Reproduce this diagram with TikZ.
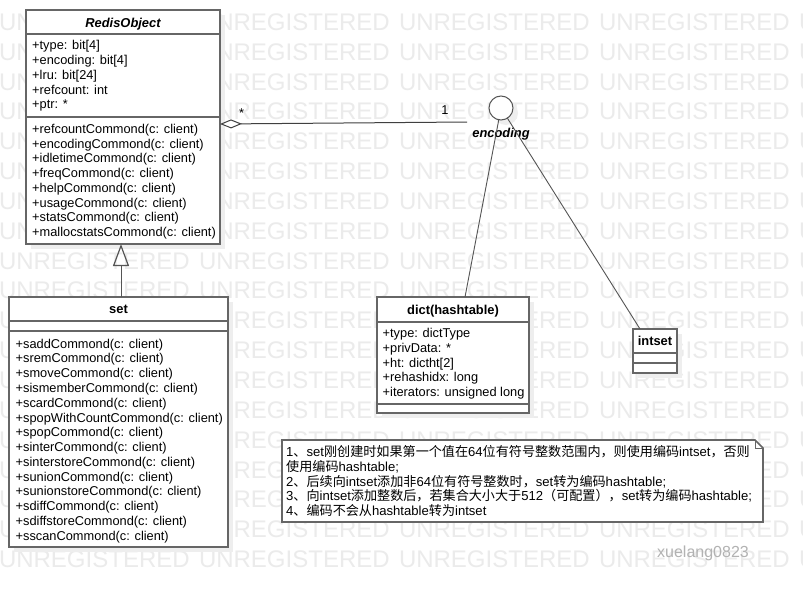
\documentclass[tikz,border=0pt]{standalone}
\usepackage{fontspec}
\setmainfont{Liberation Sans}
\newfontfamily\cjk{Noto Sans CJK SC}
\usetikzlibrary{arrows.meta,calc,shadows}
\definecolor{bord}{HTML}{666666}
\definecolor{conn}{HTML}{555555}
\definecolor{wmcol}{HTML}{EBEBEB}
\definecolor{shad}{HTML}{EEEEEE}
\newcommand\zh[1]{{\cjk #1}}
\begin{document}
\begin{tikzpicture}[x=1pt,y=-1pt,
  txt/.style={inner sep=0pt, anchor=base west, font=\fontsize{12.8}{15}\selectfont},
  notetxt/.style={inner sep=0pt, anchor=base west, font=\fontsize{13.1}{15}\selectfont},
  ttl/.style={inner sep=0pt, anchor=base, font=\fontsize{12.9}{15}\selectfont\bfseries},
  wmstyle/.style={inner sep=0pt, anchor=base west, text=wmcol, font=\fontsize{24}{24}\selectfont},
  shadowed/.style={drop shadow={shadow xshift=5pt, shadow yshift=-5pt, fill=shad, draw=none, opacity=1}},
  cls/.style={draw=bord, line width=1.4pt, fill=white, inner sep=0pt, outer sep=0pt, anchor=north west, shadowed},
  sep/.style={draw=bord, line width=1.4pt},
  link/.style={draw=conn, line width=0.9pt},
]
\useasboundingbox (0,0) rectangle (803,589);
\clip (0,0) rectangle (803,589);
\fill[white] (0,0) rectangle (803,589);

% watermark
\foreach \r in {0,...,18} {
  \foreach \c in {-1,...,4} {
    \node[wmstyle] (wm-\r-\c) at (200*\c-1.2, 30.3+29.85*\r) {UNREGISTERED};
  }
}

% ---------- RedisObject ----------
\node[cls, minimum width=194pt, minimum height=234pt] (ro) at (26,10) {};
\draw[sep] (ro.west |- 0,34) -- (ro.east |- 0,34);
\draw[sep] (ro.west |- 0,117) -- (ro.east |- 0,117);
\node[ttl, font=\fontsize{12.9}{15}\selectfont\bfseries\itshape] (ro-t) at (123,27.5) {RedisObject};
\foreach \t [count=\i from 0] in {{+type: bit[4]},{+encoding: bit[4]},{+lru: bit[24]},{+refcount: int},{+ptr: *}}
  \node[txt] (ro-a\i) at (32, 49.8+14.75*\i) {\t};
\foreach \t [count=\i from 0] in {{+refcountCommond(c: client)},{+encodingCommond(c: client)},{+idletimeCommond(c: client)},{+freqCommond(c: client)},{+helpCommond(c: client)},{+usageCommond(c: client)},{+statsCommond(c: client)},{+mallocstatsCommond(c: client)}}
  \node[txt] (ro-m\i) at (32, 133.3+14.75*\i) {\t};

% ---------- set ----------
\node[cls, minimum width=219pt, minimum height=250pt] (set) at (9,297) {};
\draw[sep] (set.west |- 0,321) -- (set.east |- 0,321);
\draw[sep] (set.west |- 0,331) -- (set.east |- 0,331);
\node[ttl] (set-t) at (118.5,313.8) {set};
\foreach \t [count=\i from 0] in {{+saddCommond(c: client)},{+sremCommond(c: client)},{+smoveCommond(c: client)},{+sismemberCommond(c: client)},{+scardCommond(c: client)},{+spopWithCountCommond(c: client)},{+spopCommond(c: client)},{+sinterCommond(c: client)},{+sinterstoreCommond(c: client)},{+sunionCommond(c: client)},{+sunionstoreCommond(c: client)},{+sdiffCommond(c: client)},{+sdiffstoreCommond(c: client)},{+sscanCommond(c: client)}}
  \node[txt] (set-m\i) at (15.5, 348.2+14.77*\i) {\t};

% ---------- dict(hashtable) ----------
\node[cls, minimum width=152pt, minimum height=116pt] (dict) at (377,297) {};
\draw[sep] (dict.west |- 0,322) -- (dict.east |- 0,322);
\draw[sep] (dict.west |- 0,404) -- (dict.east |- 0,404);
\node[ttl] (dict-t) at (453,314) {dict(hashtable)};
\foreach \t [count=\i from 0] in {{+type: dictType},{+privData: *},{+ht: dictht[2]},{+rehashidx: long},{+iterators: unsigned long}}
  \node[txt] (dict-a\i) at (382.5, 337.6+14.75*\i) {\t};

% ---------- intset ----------
\node[cls, minimum width=44pt, minimum height=44pt] (intset) at (633,329) {};
\draw[sep] (intset.west |- 0,353) -- (intset.east |- 0,353);
\draw[sep] (intset.west |- 0,363) -- (intset.east |- 0,363);
\node[ttl] (intset-t) at (655,345.8) {intset};

% ---------- interface circle ----------
\node[circle, draw=conn, line width=1pt, fill=white, minimum size=24pt, inner sep=0pt, outer sep=0pt, shadowed] (enc) at (501,108) {};
\node[ttl, font=\fontsize{12.9}{15}\selectfont\bfseries\itshape] (enc-l) at (501,137) {encoding};

% ---------- connectors ----------
\coordinate (gx) at (121,0);
\draw[link, -{Triangle[open, length=22pt, width=16pt, line width=1.2pt]}] (set.north -| gx) -- (ro.south -| gx);

\path (ro.north east) ++(0,114) coordinate (dtip);
\coordinate (aggend) at (467,122);
\draw[link, line width=1pt, draw=black!75, {Diamond[open, length=22pt, width=9pt, line width=1pt]}-] (dtip) -- (aggend);
\node[inner sep=0pt, anchor=base, font=\fontsize{12.8}{15}\selectfont] (mstar) at (241.7,117) {*};
\node[inner sep=0pt, anchor=base, font=\fontsize{12.8}{15}\selectfont] (mone) at (445,114) {1};

\draw[link] (enc) -- ($(dict.north)+(12,0)$);
\draw[link] (enc) -- ($(intset.north west)+(7,0)$);

% ---------- note ----------
\draw[draw=bord, line width=1.6pt, fill=white] (282,440) -- (755,440) -- (763,448) -- (763,522) -- (282,522) -- cycle;
\draw[draw=bord, line width=1pt] (755,440) -- (755,448) -- (763,448);
\node[notetxt] (n1) at (286,456.5) {1\zh{、}set\zh{刚创建时如果第一个值在}64\zh{位有符号整数范围内，则使用编码}intset\zh{，否则}};
\node[notetxt] (n2) at (286,471.25) {\zh{使用编码}hashtable;};
\node[notetxt] (n3) at (286,486) {2\zh{、后续向}intset\zh{添加非}64\zh{位有符号整数时，}set\zh{转为编码}hashtable;};
\node[notetxt] (n4) at (286,500.75) {3\zh{、向}intset\zh{添加整数后，若集合大小大于}512\zh{（可配置），}set\zh{转为编码}hashtable;};
\node[notetxt] (n5) at (286,515.5) {4\zh{、编码不会从}hashtable\zh{转为}intset};

% signature
\node[inner sep=0pt, text=gray!60, font=\fontsize{16}{16}\selectfont] (sig) at (703,553) {xuelang0823};
\end{tikzpicture}
\end{document}
